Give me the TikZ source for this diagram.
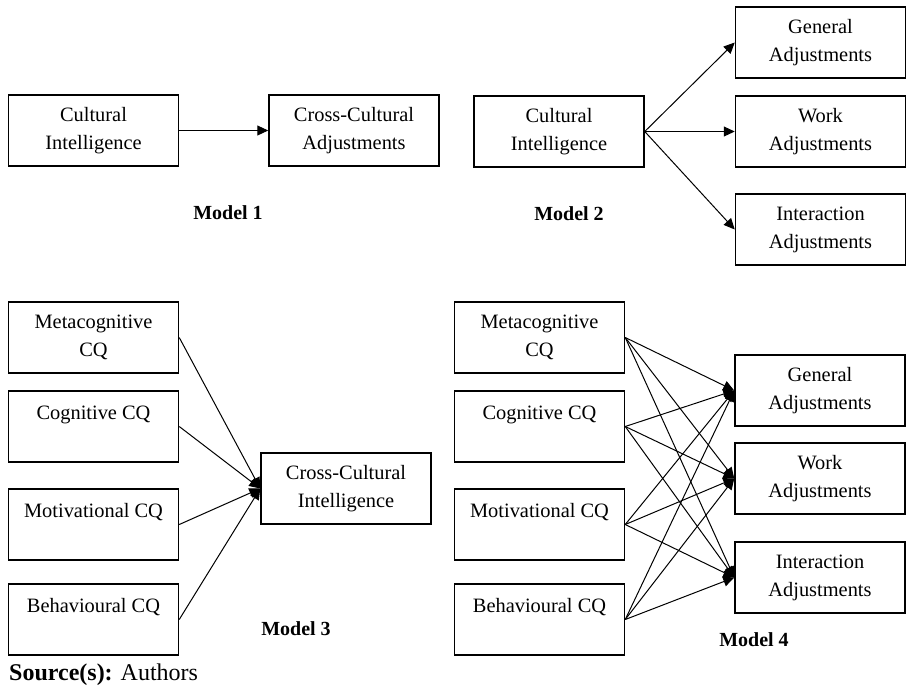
\documentclass[tikz,border=0pt]{standalone}
\usepackage{fontspec}
\setmainfont{Liberation Serif}
\usetikzlibrary{arrows.meta}
\begin{document}
\begin{tikzpicture}[x=1pt,y=-1pt,
  box/.style={draw, line width=1.5pt, minimum width=170pt, minimum height=71pt, inner sep=0pt, align=center, font=\fontsize{20.4}{28}\selectfont},
  conn/.style={line width=1pt, -{Triangle[length=11pt,width=10pt]}},
  mlabel/.style={font=\fontsize{20}{24}\selectfont\bfseries}]
\useasboundingbox (0,0) rectangle (908,689);
% Model 1
\node[box] (ci1) at (93.5,130.5) {Cultural\\Intelligence};
\node[box] (cca1) at (354,130.5) {Cross-Cultural\\Adjustments};
\draw[conn] (ci1.east) -- (cca1.west);
\node[mlabel] (lab1) at (228,213) {Model 1};
% Model 2
\node[box] (ci2) at (559,131.5) {Cultural\\Intelligence};
\node[box] (ga2) at (820.5,42.5) {General\\Adjustments};
\node[box] (wa2) at (820.5,131.5) {Work\\Adjustments};
\node[box] (ia2) at (820.5,229.5) {Interaction\\Adjustments};
\draw[conn] (ci2.east) -- (ga2.west);
\draw[conn] (ci2.east) -- (wa2.west);
\draw[conn] (ci2.east) -- (ia2.west);
\node[mlabel] (lab2) at (569,214) {Model 2};
% Model 3
\node[box] (mc3) at (93.5,337.5) {Metacognitive\\CQ};
\node[box] (cg3) at (93.5,426.5) {Cognitive CQ\\\mbox{}};
\node[box] (mo3) at (93.5,524.5) {Motivational CQ\\\mbox{}};
\node[box] (be3) at (93.5,619.5) {Behavioural CQ\\\mbox{}};
\node[box] (cci3) at (346,488.5) {Cross-Cultural\\Intelligence};
\foreach \s in {mc3,cg3,mo3,be3} \draw[conn] (\s.east) -- (cci3.west);
\node[mlabel] (lab3) at (296,629) {Model 3};
% Model 4
\node[box] (mc4) at (539.5,337.5) {Metacognitive\\CQ};
\node[box] (cg4) at (539.5,426.5) {Cognitive CQ\\\mbox{}};
\node[box] (mo4) at (539.5,524.5) {Motivational CQ\\\mbox{}};
\node[box] (be4) at (539.5,619.5) {Behavioural CQ\\\mbox{}};
\node[box] (ga4) at (820,390.5) {General\\Adjustments};
\node[box] (wa4) at (820,478.5) {Work\\Adjustments};
\node[box] (ia4) at (820,577.5) {Interaction\\Adjustments};
\foreach \s in {mc4,cg4,mo4,be4} \foreach \t in {ga4,wa4,ia4} \draw[conn] (\s.east) -- (\t.west);
\node[mlabel] (lab4) at (754,640) {Model 4};
% Source
\node[anchor=west, inner sep=0pt, font=\fontsize{24}{28}\selectfont] (src) at (9,675) {\textbf{Source(s):} Authors};
\end{tikzpicture}
\end{document}
